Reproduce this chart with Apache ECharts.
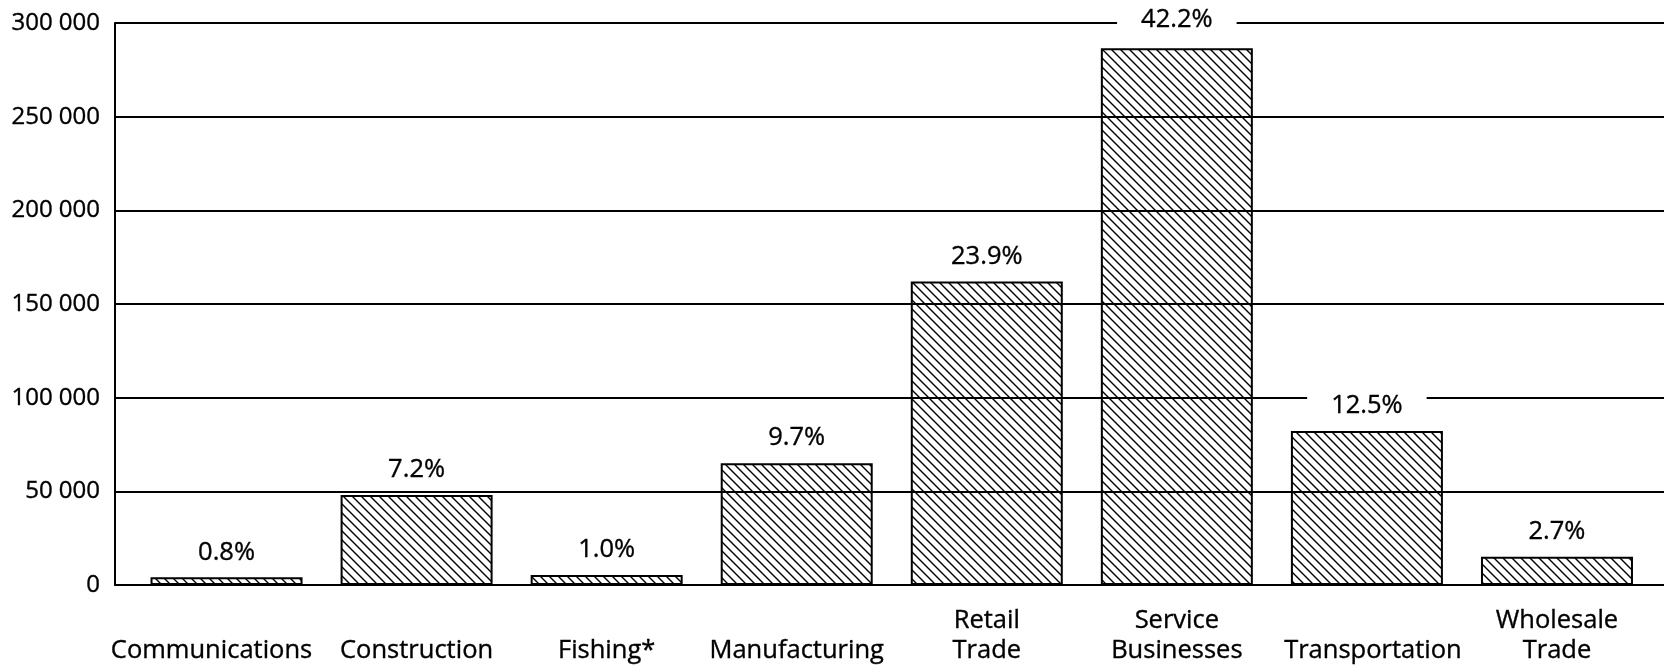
<!DOCTYPE html>
<html>
<head>
<meta charset="utf-8">
<script src="https://cdn.jsdelivr.net/npm/echarts@6/dist/echarts.min.js"></script>
<style>
html,body{margin:0;padding:0;background:#fff;}
#chart{width:1664px;height:666px;}
</style>
</head>
<body>
<div id="chart"></div>
<script>
const categories = ['Communications', 'Construction', 'Fishing*', 'Manufacturing', 'Retail\nTrade', 'Service\nBusinesses', 'Transportation', 'Wholesale\nTrade'];
const values = [4100, 48000, 5300, 65000, 162000, 286500, 82200, 15100];
const shares = ['0.8%', '7.2%', '1.0%', '9.7%', '23.9%', '42.2%', '12.5%', '2.7%'];
const yTicks = [0, 50000, 100000, 150000, 200000, 250000, 300000];

function hatch() {
  const s = 9;
  const c = document.createElement('canvas');
  c.width = s; c.height = s;
  const ctx = c.getContext('2d');
  ctx.strokeStyle = '#000';
  ctx.lineWidth = 1.4;
  ctx.beginPath();
  for (const x0 of [-s, 0, s]) {
    ctx.moveTo(x0 - 1, -1);
    ctx.lineTo(x0 + s + 1, s + 1);
  }
  ctx.stroke();
  return c;
}

const FONT = 'Open Sans';
const TXT = { fontFamily: FONT, color: '#000', textBorderColor: '#000', textBorderWidth: 0.35 };
const chart = echarts.init(document.getElementById('chart'));
const pattern = { image: hatch(), repeat: 'repeat' };
const maxVal = values.indexOf(Math.max(...values));

// small horizontal nudges of crowded category labels (layout only)
const labelNudge = { 0: [0, 30, 0, 0], 6: [0, 0, 0, 12] };
const xData = categories.map((c, i) => labelNudge[i] ? { value: c, textStyle: { padding: labelNudge[i], verticalAlign: 'bottom' } } : c);

const option = {
  animation: false,
  backgroundColor: '#fff',
  grid: [
    { left: 115, right: 0, top: 23, bottom: 81, containLabel: false, outerBoundsMode: 'none' },
    { left: 131.5, right: 12, top: 23, bottom: 81, containLabel: false, outerBoundsMode: 'none' }
  ],
  xAxis: [
    { gridIndex: 0, type: 'category', data: categories, axisLabel: { show: false }, axisTick: { show: false },
      axisLine: { show: true, lineStyle: { color: '#000', width: 2 } } },
    { gridIndex: 1, type: 'category', data: xData, axisTick: { show: false }, axisLine: { show: false },
      axisLabel: Object.assign({ fontSize: 25.5, lineHeight: 30, verticalAlign: 'bottom', margin: 81, interval: 0, hideOverlap: false }, TXT) }
  ],
  yAxis: [
    { gridIndex: 0, type: 'value', min: yTicks[0], max: yTicks[yTicks.length - 1], interval: yTicks[1] - yTicks[0],
      axisLine: { show: true, lineStyle: { color: '#000', width: 2 } }, axisTick: { show: false },
      splitLine: { show: true, lineStyle: { color: '#000', width: 2 } },
      axisLabel: Object.assign({ fontSize: 24, margin: 15,
        formatter: v => String(v).replace(/\B(?=(\d{3})+(?!\d))/g, ' ') }, TXT) },
    { gridIndex: 1, type: 'value', min: yTicks[0], max: yTicks[yTicks.length - 1], show: false, splitLine: { show: false } }
  ],
  series: [{
    type: 'bar',
    xAxisIndex: 1, yAxisIndex: 1,
    barWidth: 152,
    itemStyle: { color: pattern, borderColor: '#000', borderWidth: 2 },
    label: Object.assign({ show: true, position: 'top', distance: 12, fontSize: 25.5,
      backgroundColor: '#fff', padding: [0, 24], formatter: p => shares[p.dataIndex] }, TXT),
    data: values.map((v, i) => i === maxVal ? { value: v, label: { distance: 16 } } : v)
  }]
};
chart.setOption(option);
</script>
</body>
</html>
